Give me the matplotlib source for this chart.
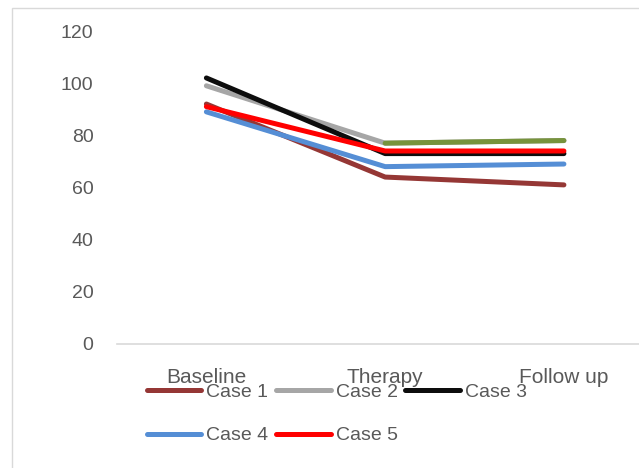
import matplotlib
matplotlib.use("Agg")
from matplotlib import pyplot as plt
from matplotlib.patches import Rectangle

# values per case at each time point
stages = ["Baseline", "Therapy", "Follow up"]
case1 = [92, 64, 61]
case2 = [99, 77, 78]
case3 = [102, 73, 73]
case4 = [89, 68, 69]
case5 = [91, 74, 74]
y_ticks = [0, 20, 40, 60, 80, 100, 120]

plt.rcParams['font.family'] = ['Liberation Sans', 'DejaVu Sans']
txt = '#595959'

W, H = 639, 468
fig = plt.figure(figsize=(W / 100, H / 100), dpi=100)
# axes box in pixels: left 117, right 639, top 31, bottom 344
ax = fig.add_axes([117 / W, (H - 344) / H, (639 - 117) / W, (344 - 31) / H])

# outer chart frame (runs off the bottom and right edges)
fig.patches.append(Rectangle((11.5 / W, -0.1), 1.0, 0.1 + (H - 7.5) / H,
                             transform=fig.transFigure, fill=False,
                             edgecolor='#d9d9d9', linewidth=1.0))

x = list(range(len(stages)))
lw = 3.6
series = [(case1, '#953735', 'Case 1'),
          (case2, '#A6A6A6', 'Case 2'),
          (case3, '#0D0D0D', 'Case 3'),
          (case4, '#558ED5', 'Case 4'),
          (case5, '#FF0000', 'Case 5')]
handles = []
for vals, col, name in series:
    h, = ax.plot(x, vals, color=col, lw=lw, solid_capstyle='round',
                 solid_joinstyle='round', label=name)
    handles.append(h)
    if name == 'Case 2':
        # second segment of case 2 is highlighted in green
        ax.plot(x[1:], vals[1:], color='#77933C', lw=lw,
                solid_capstyle='round')

ax.set_xlim(-0.5, 2.42)
ax.set_ylim(0, 120)
ax.set_yticks(y_ticks)
ax.set_xticks(x)
ax.set_xticklabels(stages)
for s in ['top', 'right', 'left']:
    ax.spines[s].set_visible(False)
ax.spines['bottom'].set_color('#d9d9d9')
ax.spines['bottom'].set_linewidth(1.2)
ax.tick_params(axis='y', length=0, pad=17, labelsize=14, labelcolor=txt)
ax.tick_params(axis='x', length=0, pad=17, labelsize=15, labelcolor=txt)

# legend is filled column-wise, so reorder to get rows 1-2-3 / 4-5
order = [0, 3, 1, 4, 2]
fig.legend([handles[i] for i in order], [handles[i].get_label() for i in order],
           ncol=3, loc='upper left', bbox_to_anchor=(147 / W, 1 - 383 / H),
           frameon=False, fontsize=14, labelcolor=txt, handlelength=2.8,
           handletextpad=0.25, columnspacing=0.4, labelspacing=1.35,
           borderpad=0, borderaxespad=0)

fig.savefig('out.png', dpi=100)
